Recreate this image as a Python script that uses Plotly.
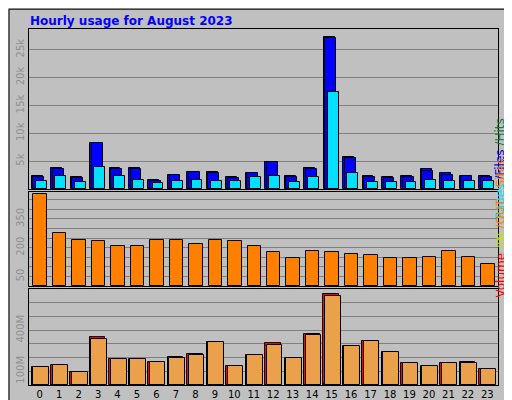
import plotly.graph_objects as go

hours = list(range(24))
hits = [2.4, 3.7, 2.1, 8.3, 3.7, 3.7, 1.6, 2.6, 3.1, 3.1, 2.1, 2.9,
        4.9, 2.3, 3.7, 27.2, 5.8, 2.3, 2.1, 2.3, 3.5, 2.8, 2.4, 2.3]
files = [2.2, 3.6, 1.9, 8.2, 3.6, 3.6, 1.5, 2.5, 3.0, 2.9, 2.0, 2.8,
         4.8, 2.1, 3.5, 27.0, 5.6, 2.2, 2.0, 2.1, 3.3, 2.6, 2.3, 2.1]
pages = [1.4, 2.3, 1.2, 4.0, 2.4, 1.7, 1.0, 1.5, 1.7, 1.5, 1.4, 2.1,
         2.3, 1.2, 2.1, 17.4, 2.8, 1.2, 1.2, 1.2, 1.7, 1.4, 1.4, 1.4]
sites = [480, 278, 240, 235, 207, 207, 240, 240, 218, 240, 235, 207,
         175, 147, 180, 175, 169, 164, 147, 147, 153, 185, 153, 115]
volume = [131, 146, 94, 347, 191, 191, 169, 206, 228, 310, 139, 221,
          303, 198, 370, 667, 288, 318, 243, 161, 139, 161, 169, 117]
vol_out = [131, 146, 94, 332, 191, 191, 169, 200, 222, 310, 139, 221,
           295, 198, 362, 652, 288, 318, 243, 161, 139, 161, 161, 117]
vol_in = [2, 2, 2, 6, 2, 2, 2, 2, 2, 2, 2, 2, 2, 2, 2, 8, 2, 2, 2, 2, 2, 2, 2, 2]

H = 400
def dom(top, bottom):
    return [1 - bottom / H, 1 - top / H]

line = dict(color="black", width=1)
fig = go.Figure()
fig.add_bar(x=hours, y=hits, marker=dict(color="#0000ff", line=line), width=0.56, offset=-0.41,
            xaxis="x", yaxis="y")
fig.add_bar(x=hours, y=files, marker=dict(color="#0000ff", line=line), width=0.56, offset=-0.33,
            xaxis="x", yaxis="y")
fig.add_bar(x=hours, y=pages, marker=dict(color="#00e0ff", line=line), width=0.56, offset=-0.2,
            xaxis="x", yaxis="y")
fig.add_bar(x=hours, y=sites, marker=dict(color="#ff8000", line=line), width=0.69, offset=-0.32,
            xaxis="x2", yaxis="y2")
fig.add_bar(x=hours, y=volume, marker=dict(color="#ff0000", line=line), width=0.8, offset=-0.42,
            xaxis="x3", yaxis="y3")
fig.add_bar(x=hours, y=vol_in, marker=dict(color="#ffff00", line=line), width=0.1, offset=-0.4,
            xaxis="x3", yaxis="y3")
fig.add_bar(x=hours, y=vol_out, marker=dict(color="#eba14c", line=line), width=0.8, offset=-0.34,
            xaxis="x3", yaxis="y3")

xcommon = dict(range=[-0.55, 23.55], domain=[21 / 512, 490 / 512], showgrid=False,
               zeroline=False, mirror=True, showline=True, linecolor="black", linewidth=1,
               automargin=False)
ycommon = dict(showgrid=True, gridcolor="#808080", gridwidth=1, zeroline=False,
               tickangle=-90, tickfont=dict(size=10, color="#909090"),
               showline=True, linecolor="black", mirror=True, ticks="", automargin=False)
fig.update_layout(
    width=512, height=400, margin=dict(l=0, r=0, t=0, b=0),
    paper_bgcolor="#c0c0c0", plot_bgcolor="#c0c0c0",
    barmode="overlay", showlegend=False, bargap=0,
    font=dict(family="DejaVu Sans", size=10, color="black"),
    xaxis=dict(xcommon, anchor="y", showticklabels=False),
    xaxis2=dict(xcommon, anchor="y2", showticklabels=False),
    xaxis3=dict(xcommon, anchor="y3", tickvals=hours, tickfont=dict(size=10)),
    yaxis=dict(ycommon, domain=dom(21, 181), range=[0, 28.7], tickvals=[5, 10, 15, 20, 25],
               ticktext=["5k", "10k", "15k", "20k", "25k"]),
    yaxis2=dict(ycommon, domain=dom(184, 278), range=[0, 490],
                tickvals=[50, 100, 150, 200, 250, 300, 350, 400, 450],
                ticktext=["50", "", "", "200", "", "", "350", "", ""]),
    yaxis3=dict(ycommon, domain=dom(281, 377), range=[0, 700],
                tickvals=[100, 200, 300, 400, 500, 600],
                ticktext=["100M", "", "", "400M", "", ""]),
    annotations=[
        dict(text="<b>Hourly usage for August 2023</b>", x=20 / 512, y=1 - 13 / H, xref="paper",
             yref="paper", xanchor="left", yanchor="middle", showarrow=False,
             font=dict(size=12, color="#0000ff")),
        dict(text="<span style='color:#00e0ff'>Pages</span> <span style='color:#0000ff'>/Files</span> "
                  "<span style='color:#008040'>/Hits_</span>",
             x=501 / 512, y=1 - 101 / H, xref="paper", yref="paper", textangle=-90,
             showarrow=False, font=dict(size=12)),
        dict(text="<span style='color:#ff0000'>Volume</span> <span style='color:#c0e000'>/IN</span> "
                  "<span style='color:#ff8000'>/OUT</span>   <span style='color:#ff8000'>Sites</span>",
             x=501 / 512, y=1 - 292 / H, xref="paper", yref="paper", textangle=-90,
             showarrow=False, font=dict(size=12)),
    ],
    shapes=[dict(type="rect", xref="paper", yref="paper", x0=0.002, y0=0.003, x1=0.998, y1=0.997,
                 line=dict(color="black", width=1))],
)
fig.write_html("out.html")
